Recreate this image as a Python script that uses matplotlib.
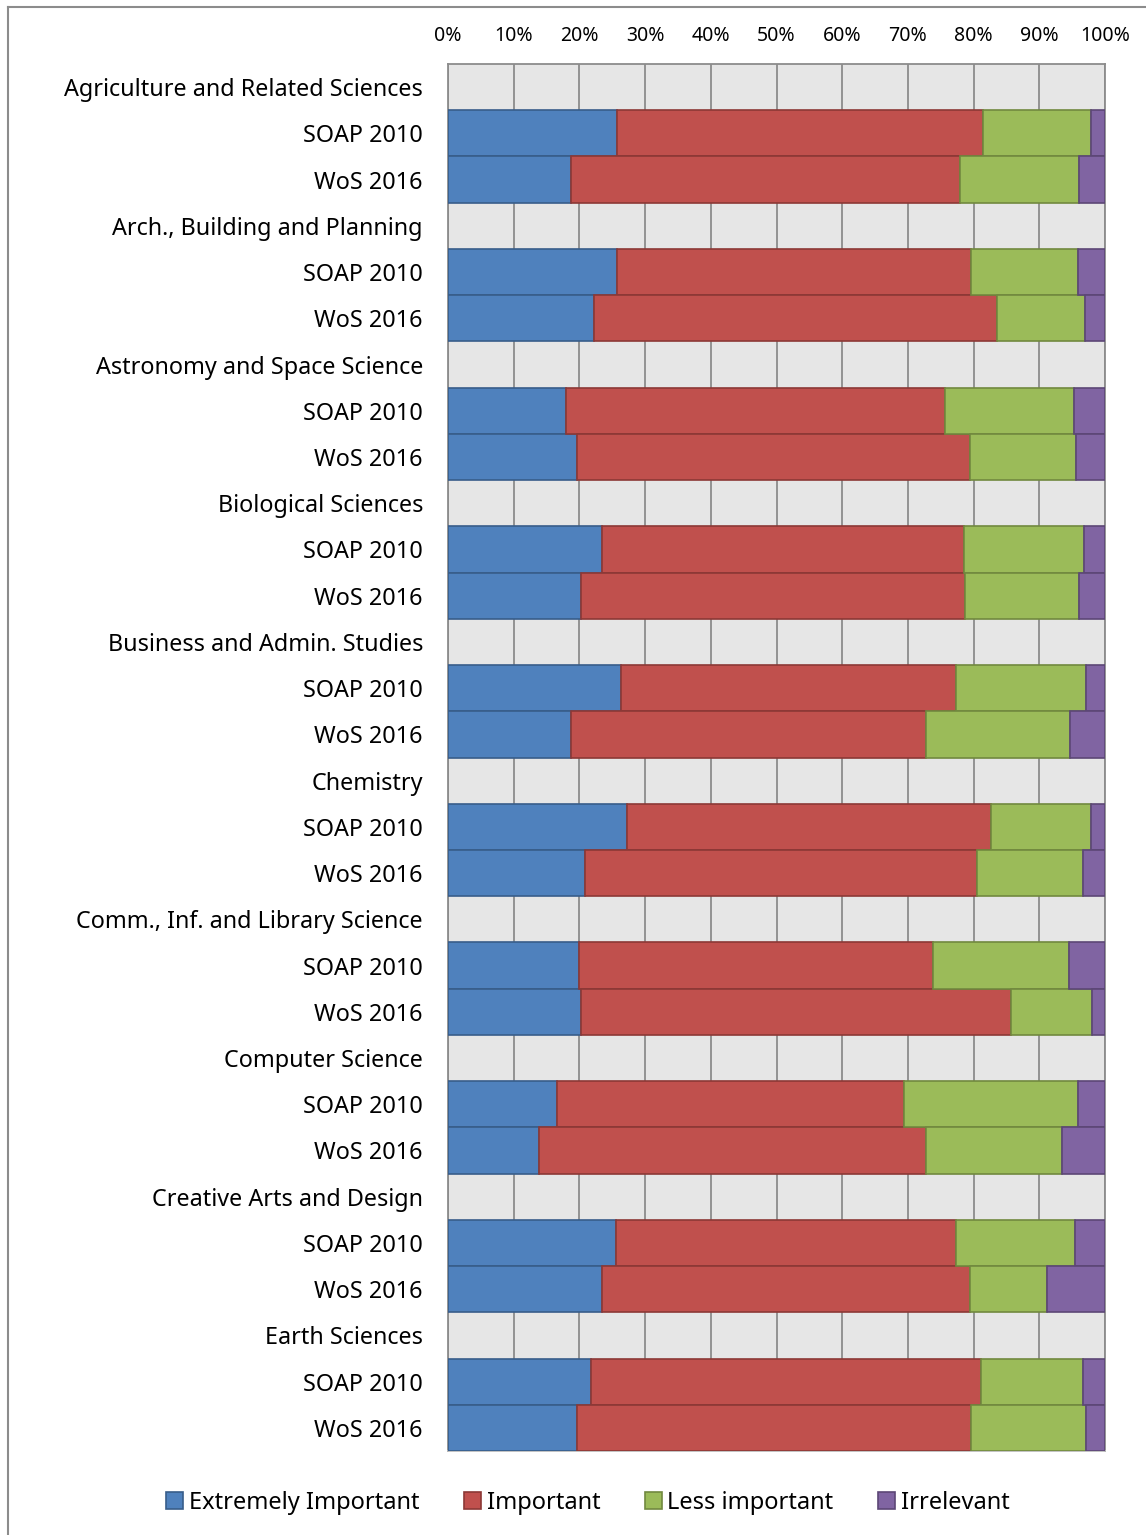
import matplotlib
matplotlib.use("Agg")
import matplotlib.pyplot as plt
from matplotlib.lines import Line2D
from matplotlib.patches import Patch

plt.rcParams['font.family'] = ['Noto Sans', 'DejaVu Sans']

# Survey responses: importance of open access per subject area
categories = [
    "Agriculture and Related Sciences",
    "Arch., Building and Planning",
    "Astronomy and Space Science",
    "Biological Sciences",
    "Business and Admin. Studies",
    "Chemistry",
    "Comm., Inf. and Library Science",
    "Computer Science",
    "Creative Arts and Design",
    "Earth Sciences",
]
sources = ["SOAP 2010", "WoS 2016"]

# Percentages, ordered as (category SOAP 2010, category WoS 2016) pairs
extremely = [25.7, 18.7, 25.7, 22.2, 18.0, 19.7, 23.4, 20.2, 26.4, 18.7,
             27.3, 20.9, 19.9, 20.3, 16.6, 13.8, 25.5, 23.4, 21.7, 19.7]
important = [55.8, 59.3, 53.9, 61.4, 57.7, 59.7, 55.1, 58.5, 50.9, 54.0,
             55.4, 59.6, 53.9, 65.4, 52.8, 58.9, 51.8, 56.0, 59.5, 59.9]
less = [16.3, 18.0, 16.3, 13.4, 19.6, 16.2, 18.3, 17.4, 19.8, 21.9,
        15.1, 16.1, 20.7, 12.3, 26.5, 20.7, 18.1, 11.7, 15.5, 17.5]
irrelevant = [2.2, 4.0, 4.1, 3.0, 4.7, 4.4, 3.2, 3.9, 2.9, 5.4,
              2.2, 3.4, 5.5, 2.0, 4.1, 6.6, 4.6, 8.9, 3.3, 2.9]

series_names = ["Extremely Important", "Important", "Less important", "Irrelevant"]
face_colors = ["#4f81bd", "#c0504d", "#9bbb59", "#8064a2"]
edge_colors = ["#385d8a", "#8c3836", "#71893f", "#5c4776"]
tick_values = list(range(0, 101, 10))

fig = plt.figure(figsize=(11.46, 15.35), dpi=100)
ax = fig.add_axes([448 / 1146, 1 - 1451 / 1535, (1105 - 448) / 1146, (1451 - 64) / 1535])
ax.set_facecolor("#e6e6e6")

# Row layout: one header row per category followed by one row per source
labels = []
bar_rows = []
row = 0
for cat in categories:
    labels.append(cat)
    row += 1
    for src in sources:
        labels.append(src)
        bar_rows.append(row)
        row += 1

left = [0.0] * len(bar_rows)
for vals, fc, ec, name in zip([extremely, important, less, irrelevant],
                              face_colors, edge_colors, series_names):
    ax.barh(bar_rows, vals, left=left, height=1.0, color=fc, edgecolor=ec,
            linewidth=1.2, label=name, zorder=3)
    left = [l + v for l, v in zip(left, vals)]

ax.set_xlim(0, 100)
ax.set_ylim(len(labels) - 0.5, -0.5)
ax.set_yticks(range(len(labels)))
ax.set_yticklabels(labels, fontsize=16.8)
ax.set_xticks(tick_values)
ax.set_xticklabels([f"{v}%" for v in tick_values], fontsize=14)
ax.xaxis.tick_top()
ax.tick_params(axis="both", length=0)
ax.tick_params(axis="y", pad=18)
ax.tick_params(axis="x", pad=13)
ax.grid(axis="x", color="#8c8c8c", linewidth=1.3, zorder=1)
ax.set_axisbelow(True)
for side, sp in ax.spines.items():
    sp.set_color("#8c8c8c")
    sp.set_linewidth(1.3)
ax.spines["bottom"].set_color("#bdbdbd")

# Outer chart frame (top and left edges)
fig.add_artist(Line2D([8 / 1146, 1.0], [1 - 7 / 1535, 1 - 7 / 1535],
                      transform=fig.transFigure, color="#8c8c8c", linewidth=1.5))
fig.add_artist(Line2D([8 / 1146, 8 / 1146], [0.0, 1 - 7 / 1535],
                      transform=fig.transFigure, color="#8c8c8c", linewidth=1.5))

handles = [Patch(facecolor=fc, edgecolor=ec, linewidth=1.2, label=n)
           for fc, ec, n in zip(face_colors, edge_colors, series_names)]
fig.legend(handles=handles, loc="center", bbox_to_anchor=(588 / 1146, 1 - 1503 / 1535),
           ncol=4, frameon=False, fontsize=17, handlelength=0.7, handleheight=0.7,
           handletextpad=0.25, columnspacing=1.9)

fig.savefig("out.png", dpi=100)
